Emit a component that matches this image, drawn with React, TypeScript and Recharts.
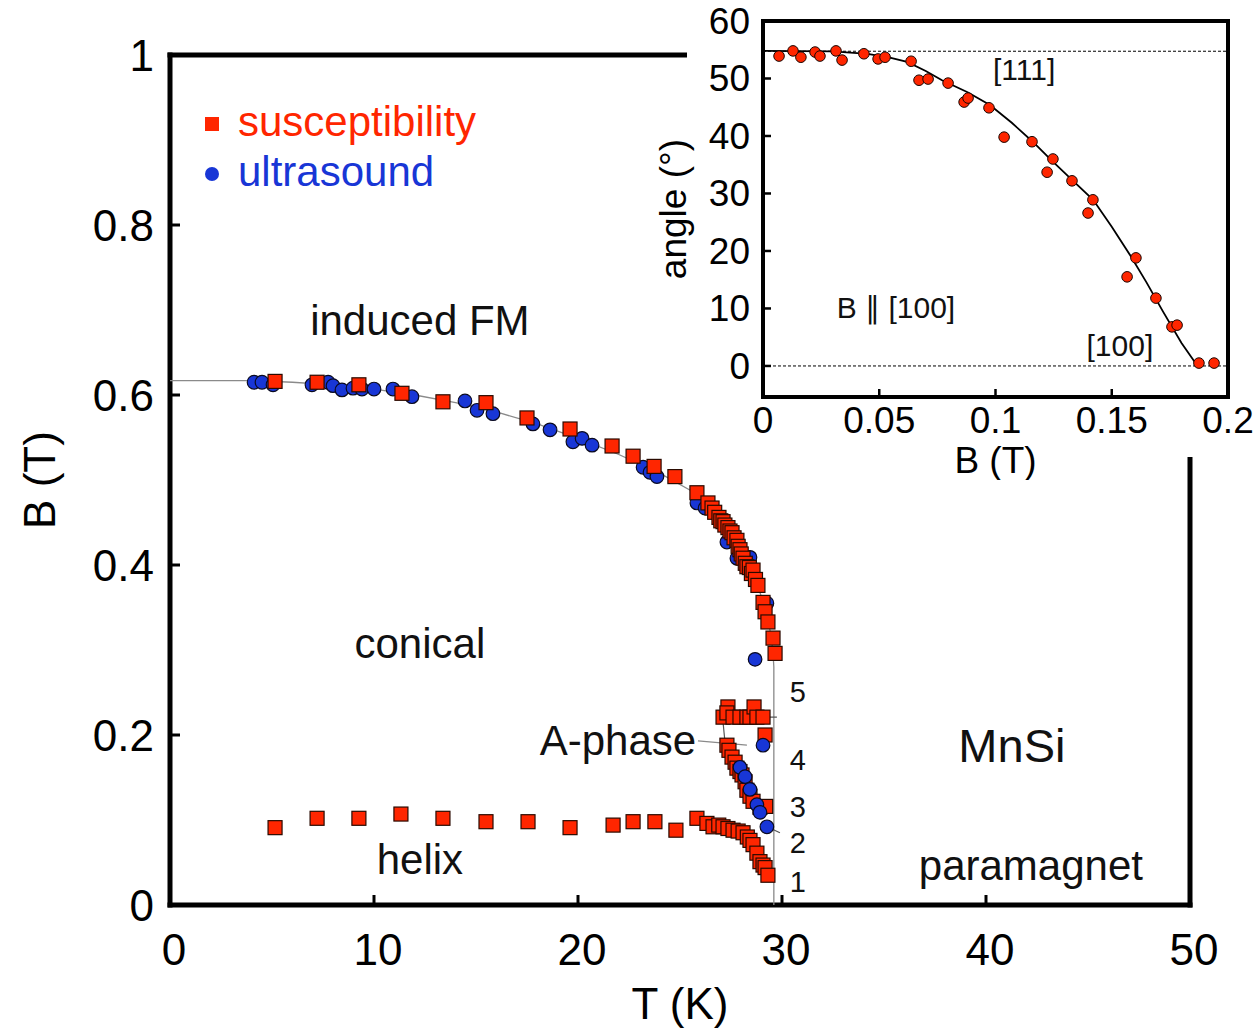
import React from 'react';
import { ScatterChart, Scatter, XAxis, YAxis, ReferenceLine, Legend } from 'recharts';

const FONT = '"Liberation Sans", Arial, Helvetica, sans-serif';
const RED = '#ff2600';
const BLUE = '#1836d6';
const LINE_GRAY = '#8a8a8a';

// ---------- main chart: ticks ----------
const mainXTicks = [0, 10, 20, 30, 40, 50];
const mainYTicks = [0, 0.2, 0.4, 0.6, 0.8, 1];

// ---------- main chart: susceptibility (T in K, B in T) ----------
const suscUpper = [
  { T: 5.15, B: 0.616 }, { T: 7.21, B: 0.615 }, { T: 9.26, B: 0.612 }, { T: 11.37, B: 0.602 },
  { T: 13.38, B: 0.592 }, { T: 15.49, B: 0.591 }, { T: 17.5, B: 0.573 }, { T: 19.61, B: 0.56 },
  { T: 21.67, B: 0.54 }, { T: 22.7, B: 0.528 }, { T: 23.73, B: 0.516 }, { T: 24.75, B: 0.504 },
  { T: 25.83, B: 0.485 }, { T: 26.37, B: 0.473 }, { T: 26.57, B: 0.467 }, { T: 26.7, B: 0.462 },
  { T: 26.91, B: 0.456 }, { T: 27.0, B: 0.452 }, { T: 27.11, B: 0.451 }, { T: 27.2, B: 0.447 },
  { T: 27.35, B: 0.444 }, { T: 27.45, B: 0.44 }, { T: 27.55, B: 0.438 }, { T: 27.65, B: 0.432 },
  { T: 27.79, B: 0.429 }, { T: 27.85, B: 0.422 }, { T: 27.94, B: 0.418 }, { T: 28.0, B: 0.413 },
  { T: 28.09, B: 0.408 }, { T: 28.2, B: 0.402 }, { T: 28.28, B: 0.398 }, { T: 28.4, B: 0.397 },
  { T: 28.5, B: 0.39 }, { T: 28.58, B: 0.394 }, { T: 28.7, B: 0.383 }, { T: 28.82, B: 0.376 },
  { T: 29.07, B: 0.356 }, { T: 29.17, B: 0.345 }, { T: 29.31, B: 0.333 }, { T: 29.56, B: 0.314 },
  { T: 29.66, B: 0.296 },
];
const suscAUpper = [
  { T: 27.11, B: 0.221 }, { T: 27.35, B: 0.233 }, { T: 27.3, B: 0.226 }, { T: 27.6, B: 0.221 },
  { T: 27.94, B: 0.221 }, { T: 28.28, B: 0.221 }, { T: 28.43, B: 0.221 }, { T: 28.63, B: 0.233 },
  { T: 28.77, B: 0.221 }, { T: 29.07, B: 0.221 }, { T: 29.17, B: 0.2 },
];
const suscALower = [
  { T: 27.3, B: 0.188 }, { T: 27.4, B: 0.182 }, { T: 27.55, B: 0.174 }, { T: 27.7, B: 0.168 },
  { T: 27.79, B: 0.161 }, { T: 27.94, B: 0.157 }, { T: 28.04, B: 0.153 }, { T: 28.19, B: 0.145 },
  { T: 28.28, B: 0.135 }, { T: 28.43, B: 0.128 }, { T: 28.58, B: 0.122 }, { T: 28.92, B: 0.115 },
  { T: 29.2, B: 0.116 },
];
const suscHelix = [
  { T: 5.15, B: 0.091 }, { T: 7.21, B: 0.102 }, { T: 9.26, B: 0.102 }, { T: 11.32, B: 0.107 },
  { T: 13.38, B: 0.102 }, { T: 15.49, B: 0.098 }, { T: 17.55, B: 0.098 }, { T: 19.61, B: 0.091 },
  { T: 21.72, B: 0.094 }, { T: 22.7, B: 0.098 }, { T: 23.77, B: 0.098 }, { T: 24.8, B: 0.088 },
  { T: 25.83, B: 0.102 }, { T: 26.32, B: 0.096 }, { T: 26.62, B: 0.092 }, { T: 26.9, B: 0.094 },
  { T: 27.11, B: 0.092 }, { T: 27.35, B: 0.09 }, { T: 27.6, B: 0.088 }, { T: 27.85, B: 0.087 },
  { T: 28.09, B: 0.085 }, { T: 28.3, B: 0.08 }, { T: 28.43, B: 0.076 }, { T: 28.58, B: 0.071 },
  { T: 28.77, B: 0.061 }, { T: 28.92, B: 0.051 }, { T: 29.07, B: 0.047 }, { T: 29.17, B: 0.044 },
  { T: 29.31, B: 0.035 },
];

// ---------- main chart: ultrasound ----------
const ultraUpper = [
  { T: 4.12, B: 0.615 }, { T: 4.51, B: 0.615 }, { T: 5.05, B: 0.612 }, { T: 6.96, B: 0.612 },
  { T: 7.75, B: 0.615 }, { T: 7.99, B: 0.611 }, { T: 8.43, B: 0.606 }, { T: 8.97, B: 0.608 },
  { T: 9.41, B: 0.607 }, { T: 10.0, B: 0.607 }, { T: 10.93, B: 0.607 }, { T: 11.86, B: 0.598 },
  { T: 14.46, B: 0.593 }, { T: 15.05, B: 0.582 }, { T: 15.83, B: 0.578 }, { T: 17.79, B: 0.566 },
  { T: 18.63, B: 0.559 }, { T: 19.75, B: 0.545 }, { T: 20.2, B: 0.549 }, { T: 20.69, B: 0.541 },
  { T: 23.19, B: 0.515 }, { T: 23.53, B: 0.509 }, { T: 23.87, B: 0.504 }, { T: 25.83, B: 0.473 },
  { T: 26.23, B: 0.467 }, { T: 27.3, B: 0.427 }, { T: 27.79, B: 0.408 }, { T: 28.43, B: 0.409 },
  { T: 29.26, B: 0.355 }, { T: 28.68, B: 0.289 },
];
const ultraA = [
  { T: 29.07, B: 0.188 }, { T: 27.94, B: 0.162 }, { T: 28.19, B: 0.151 }, { T: 28.43, B: 0.136 },
  { T: 28.77, B: 0.118 }, { T: 28.92, B: 0.109 }, { T: 29.26, B: 0.092 },
];

// ---------- main chart: guide lines ----------
const phaseBoundary = [
  { T: 0, B: 0.617 }, { T: 4, B: 0.617 }, { T: 6, B: 0.615 }, { T: 8, B: 0.612 }, { T: 10, B: 0.607 },
  { T: 12, B: 0.6 }, { T: 14, B: 0.591 }, { T: 16, B: 0.58 }, { T: 18, B: 0.566 }, { T: 20, B: 0.549 },
  { T: 22, B: 0.53 }, { T: 24, B: 0.508 }, { T: 25.5, B: 0.488 }, { T: 26.5, B: 0.47 }, { T: 27.3, B: 0.448 },
  { T: 28, B: 0.42 }, { T: 28.6, B: 0.39 }, { T: 29.1, B: 0.355 }, { T: 29.4, B: 0.325 }, { T: 29.55, B: 0.3 },
  { T: 29.6, B: 0.28 }, { T: 29.6, B: 0 },
];
const aPhaseTop = [{ T: 27.1, B: 0.221 }, { T: 29.75, B: 0.221 }];
const aPhaseLeft = [{ T: 27.11, B: 0.215 }, { T: 27.2, B: 0.193 }];
const aPhaseLeader = [{ T: 25.88, B: 0.193 }, { T: 28.28, B: 0.188 }];
const label2Leader = [{ T: 29.26, B: 0.092 }, { T: 29.9, B: 0.085 }];

// ---------- main chart: annotations ----------
const regionLabels = [
  { T: 12.25, B: 0.688, text: 'induced FM' },
  { T: 12.25, B: 0.308, text: 'conical' },
  { T: 12.25, B: 0.053, text: 'helix' },
  { T: 21.96, B: 0.194, text: 'A-phase' },
  { T: 42.2, B: 0.046, text: 'paramagnet' },
];
const materialLabel = [{ T: 41.27, B: 0.188, text: 'MnSi' }];
const numberLabels = [
  { T: 30.78, B: 0.2506, text: '5' },
  { T: 30.78, B: 0.1706, text: '4' },
  { T: 30.78, B: 0.1153, text: '3' },
  { T: 30.78, B: 0.0729, text: '2' },
  { T: 30.78, B: 0.0271, text: '1' },
];

// ---------- inset ----------
const insetXTicks = [0, 0.05, 0.1, 0.15, 0.2];
const insetYTicks = [0, 10, 20, 30, 40, 50, 60];
const insetAngles = [
  { b: 0.0069, a: 53.9 }, { b: 0.0129, a: 54.8 }, { b: 0.0163, a: 53.7 }, { b: 0.0224, a: 54.6 },
  { b: 0.0245, a: 53.9 }, { b: 0.0314, a: 54.8 }, { b: 0.034, a: 53.2 }, { b: 0.0434, a: 54.3 },
  { b: 0.0495, a: 53.4 }, { b: 0.0525, a: 53.7 }, { b: 0.0637, a: 53.0 }, { b: 0.0671, a: 49.7 },
  { b: 0.071, a: 49.9 }, { b: 0.0796, a: 49.2 }, { b: 0.0865, a: 45.9 }, { b: 0.0882, a: 46.6 },
  { b: 0.0972, a: 44.9 }, { b: 0.1037, a: 39.8 }, { b: 0.1157, a: 39.0 }, { b: 0.1247, a: 36.0 },
  { b: 0.1222, a: 33.7 }, { b: 0.1329, a: 32.2 }, { b: 0.1419, a: 28.9 }, { b: 0.1398, a: 26.6 },
  { b: 0.1604, a: 18.8 }, { b: 0.1566, a: 15.5 }, { b: 0.169, a: 11.8 }, { b: 0.1759, a: 6.8 },
  { b: 0.1781, a: 7.1 }, { b: 0.1875, a: 0.5 }, { b: 0.194, a: 0.5 },
];
const insetFit = [
  { b: 0, a: 54.8 }, { b: 0.03, a: 54.7 }, { b: 0.045, a: 54.3 }, { b: 0.055, a: 53.6 },
  { b: 0.062, a: 52.9 }, { b: 0.07, a: 51.3 }, { b: 0.077, a: 49.7 }, { b: 0.088, a: 47.6 },
  { b: 0.0976, a: 45.4 }, { b: 0.107, a: 42.3 }, { b: 0.116, a: 39.0 }, { b: 0.124, a: 35.8 },
  { b: 0.132, a: 32.7 }, { b: 0.142, a: 28.9 }, { b: 0.15, a: 24.2 }, { b: 0.158, a: 19.2 },
  { b: 0.165, a: 14.5 }, { b: 0.172, a: 9.5 }, { b: 0.18, a: 4.0 }, { b: 0.186, a: 0.5 },
];
const insetRefAngles = [54.74, 0];
const insetLabels = [
  { b: 0.1123, a: 51.5, text: '[111]' },
  { b: 0.0572, a: 10.1, text: 'B \u2225 [100]' },
  { b: 0.1535, a: 3.5, text: '[100]' },
];

// ---------- shapes ----------
const SquareShape = (p: any) => (
  <rect x={p.cx - 7} y={p.cy - 7} width={14} height={14} fill={RED} stroke="#2a0a00" strokeWidth={1.2} />
);
const CircleShape = (p: any) => (
  <circle cx={p.cx} cy={p.cy} r={6.8} fill={BLUE} stroke="#0a0a20" strokeWidth={1.2} />
);
const InsetDot = (p: any) => (
  <circle cx={p.cx} cy={p.cy} r={5.3} fill={RED} stroke="#1a0500" strokeWidth={1} />
);
const NoShape = () => <g />;
const textShape = (fontSize: number) => (p: any) => (
  <text x={p.cx} y={p.cy} textAnchor="middle" dominantBaseline="central" fontSize={fontSize} fill="#111">
    {p.payload.text}
  </text>
);

// ---------- ticks ----------
const mainBottomTick = (p: any) => (
  <g>
    <line x1={p.x} x2={p.x} y1={p.y} y2={p.y - 10} stroke="#000" strokeWidth={3} />
    <text x={p.x + 4} y={p.y + 60} textAnchor="middle" fontSize={44} fill="#000">{p.payload.value}</text>
  </g>
);
const mainLeftTick = (p: any) => (
  <g>
    <line x1={p.x} x2={p.x + 10} y1={p.y} y2={p.y} stroke="#000" strokeWidth={3} />
    <text x={p.x - 16} y={p.y + 16} textAnchor="end" fontSize={44} fill="#000">{p.payload.value}</text>
  </g>
);
const mainTopTick = (p: any) => (
  <line x1={p.x} x2={p.x} y1={p.y} y2={p.y + 10} stroke="#000" strokeWidth={3} />
);
const mainRightTick = (p: any) => (
  <line x1={p.x} x2={p.x - 10} y1={p.y} y2={p.y} stroke="#000" strokeWidth={3} />
);
const insetBottomTick = (p: any) => (
  <g>
    <line x1={p.x} x2={p.x} y1={p.y} y2={p.y - 8} stroke="#000" strokeWidth={2.5} />
    <text x={p.x} y={p.y + 36} textAnchor="middle" fontSize={37} fill="#000">{p.payload.value}</text>
  </g>
);
const insetLeftTick = (p: any) => (
  <g>
    <line x1={p.x} x2={p.x + 8} y1={p.y} y2={p.y} stroke="#000" strokeWidth={2.5} />
    <text x={p.x - 13} y={p.y + 13} textAnchor="end" fontSize={37} fill="#000">{p.payload.value}</text>
  </g>
);
const insetTopTick = (p: any) => (
  <line x1={p.x} x2={p.x} y1={p.y} y2={p.y + 8} stroke="#000" strokeWidth={2.5} />
);
const insetRightTick = (p: any) => (
  <line x1={p.x} x2={p.x - 8} y1={p.y} y2={p.y} stroke="#000" strokeWidth={2.5} />
);

// ---------- axis titles ----------
const hTitle = (text: string, dy: number, fs: number) => (p: any) => {
  const vb = p.viewBox || { x: 0, y: 0, width: 0, height: 0 };
  return (
    <text x={vb.x + vb.width / 2} y={vb.y + dy} textAnchor="middle" dominantBaseline="central" fontSize={fs} fill="#000">
      {text}
    </text>
  );
};
const vTitle = (text: string, dx: number, fs: number) => (p: any) => {
  const vb = p.viewBox || { x: 0, y: 0, width: 0, height: 0 };
  const x = vb.x + dx;
  const y = vb.y + vb.height / 2;
  return (
    <text x={x} y={y} transform={`rotate(-90, ${x}, ${y})`} textAnchor="middle" dominantBaseline="central" fontSize={fs} fill="#000">
      {text}
    </text>
  );
};

// ---------- legend ----------
const legendOrder = ['susceptibility', 'ultrasound'];
const renderLegend = (props: any) => {
  const items = (props.payload || [])
    .filter((e: any) => e.type !== 'none' && legendOrder.indexOf(e.value) >= 0)
    .sort((a: any, b: any) => legendOrder.indexOf(a.value) - legendOrder.indexOf(b.value));
  return (
    <svg width={320} height={110} style={{ display: 'block', overflow: 'visible' }}>
      {items.map((e: any, i: number) => {
        const cy = 29 + i * 50;
        return (
          <g key={e.value}>
            {e.type === 'square' ? (
              <rect x={10} y={cy - 7} width={14} height={14} fill={e.color} />
            ) : (
              <circle cx={17} cy={cy} r={7} fill={e.color} />
            )}
            <text x={43} y={cy + 12} fontSize={42} fill={e.color} fontFamily={FONT}>{e.value}</text>
          </g>
        );
      })}
    </svg>
  );
};

const mainAxisLine = { stroke: '#000', strokeWidth: 5, strokeLinecap: 'square' as const };
const insetAxisLine = { stroke: '#000', strokeWidth: 4, strokeLinecap: 'square' as const };

export default function App() {
  return (
    <div style={{ position: 'absolute', left: 0, top: 0, width: 1260, height: 1034, background: '#fff', fontFamily: FONT }}>
      <div style={{ position: 'absolute', left: 0, top: 0 }}>
        <ScatterChart width={1260} height={1034} margin={{ top: 35, right: 50, bottom: 69, left: 110 }}>
          <XAxis
            xAxisId={0}
            type="number"
            dataKey="T"
            domain={[0, 50]}
            ticks={mainXTicks}
            interval={0}
            height={60}
            tickSize={0}
            tickMargin={0}
            tickLine={false}
            axisLine={mainAxisLine}
            tick={mainBottomTick}
            label={hTitle('T (K)', 98, 44)}
          />
          <XAxis
            xAxisId="top"
            orientation="top"
            type="number"
            domain={[0, 50]}
            ticks={mainXTicks}
            interval={0}
            height={20}
            tickSize={0}
            tickMargin={0}
            tickLine={false}
            axisLine={mainAxisLine}
            tick={mainTopTick}
          />
          <YAxis
            yAxisId={0}
            type="number"
            dataKey="B"
            domain={[0, 1]}
            ticks={mainYTicks}
            interval={0}
            width={60}
            tickSize={0}
            tickMargin={0}
            tickLine={false}
            axisLine={mainAxisLine}
            tick={mainLeftTick}
            label={vTitle('B (T)', -71, 44)}
          />
          <YAxis
            yAxisId="right"
            orientation="right"
            type="number"
            domain={[0, 1]}
            ticks={mainYTicks}
            interval={0}
            width={20}
            tickSize={0}
            tickMargin={0}
            tickLine={false}
            axisLine={mainAxisLine}
            tick={mainRightTick}
          />
          <Legend
            layout="vertical"
            verticalAlign="middle"
            align="center"
            content={renderLegend}
            wrapperStyle={{ left: 195, top: 95, width: 320, height: 110 }}
          />

          <Scatter data={phaseBoundary} line={{ stroke: LINE_GRAY, strokeWidth: 1.3 }} shape={NoShape} legendType="none" isAnimationActive={false} />
          <Scatter data={aPhaseTop} line={{ stroke: '#555', strokeWidth: 1.2 }} shape={NoShape} legendType="none" isAnimationActive={false} />
          <Scatter data={aPhaseLeft} line={{ stroke: '#555', strokeWidth: 1.2 }} shape={NoShape} legendType="none" isAnimationActive={false} />
          <Scatter data={aPhaseLeader} line={{ stroke: LINE_GRAY, strokeWidth: 1.2 }} shape={NoShape} legendType="none" isAnimationActive={false} />
          <Scatter data={label2Leader} line={{ stroke: '#555', strokeWidth: 1.2 }} shape={NoShape} legendType="none" isAnimationActive={false} />

          <Scatter data={ultraUpper} fill={BLUE} shape={CircleShape} legendType="none" isAnimationActive={false} />
          <Scatter name="susceptibility" data={suscUpper} fill={RED} shape={SquareShape} legendType="square" isAnimationActive={false} />
          <Scatter data={suscAUpper} fill={RED} shape={SquareShape} legendType="none" isAnimationActive={false} />
          <Scatter data={suscALower} fill={RED} shape={SquareShape} legendType="none" isAnimationActive={false} />
          <Scatter data={suscHelix} fill={RED} shape={SquareShape} legendType="none" isAnimationActive={false} />
          <Scatter name="ultrasound" data={ultraA} fill={BLUE} shape={CircleShape} legendType="circle" isAnimationActive={false} />

          <Scatter data={regionLabels} shape={textShape(42)} legendType="none" isAnimationActive={false} />
          <Scatter data={materialLabel} shape={textShape(47)} legendType="none" isAnimationActive={false} />
          <Scatter data={numberLabels} shape={textShape(29)} legendType="none" isAnimationActive={false} />
        </ScatterChart>
      </div>

      <div style={{ position: 'absolute', left: 687, top: 0, width: 573, height: 457, background: '#fff' }} />

      <div style={{ position: 'absolute', left: 650, top: 0 }}>
        <ScatterChart width={610} height={480} margin={{ top: 11, right: 22, bottom: 33, left: 63 }}>
          <XAxis
            xAxisId={0}
            type="number"
            dataKey="b"
            domain={[0, 0.2]}
            ticks={insetXTicks}
            interval={0}
            height={50}
            tickSize={0}
            tickMargin={0}
            tickLine={false}
            axisLine={insetAxisLine}
            tick={insetBottomTick}
            label={hTitle('B (T)', 63, 37)}
          />
          <XAxis
            xAxisId="top"
            orientation="top"
            type="number"
            domain={[0, 0.2]}
            ticks={insetXTicks}
            interval={0}
            height={10}
            tickSize={0}
            tickMargin={0}
            tickLine={false}
            axisLine={insetAxisLine}
            tick={insetTopTick}
          />
          <YAxis
            yAxisId={0}
            type="number"
            dataKey="a"
            domain={[-5.4, 60]}
            ticks={insetYTicks}
            interval={0}
            width={50}
            tickSize={0}
            tickMargin={0}
            tickLine={false}
            axisLine={insetAxisLine}
            tick={insetLeftTick}
            label={vTitle('angle (\u00b0)', -40, 37)}
          />
          <YAxis
            yAxisId="right"
            orientation="right"
            type="number"
            domain={[-5.4, 60]}
            ticks={insetYTicks}
            interval={0}
            width={10}
            tickSize={0}
            tickMargin={0}
            tickLine={false}
            axisLine={insetAxisLine}
            tick={insetRightTick}
          />
          {insetRefAngles.map((v) => (
            <ReferenceLine key={v} y={v} stroke="#000" strokeWidth={1} strokeDasharray="3 2" />
          ))}
          <Scatter data={insetFit} line={{ stroke: '#000', strokeWidth: 1.8 }} shape={NoShape} legendType="none" isAnimationActive={false} />
          <Scatter data={insetAngles} fill={RED} shape={InsetDot} legendType="none" isAnimationActive={false} />
          <Scatter data={insetLabels} shape={textShape(30)} legendType="none" isAnimationActive={false} />
        </ScatterChart>
      </div>
    </div>
  );
}
